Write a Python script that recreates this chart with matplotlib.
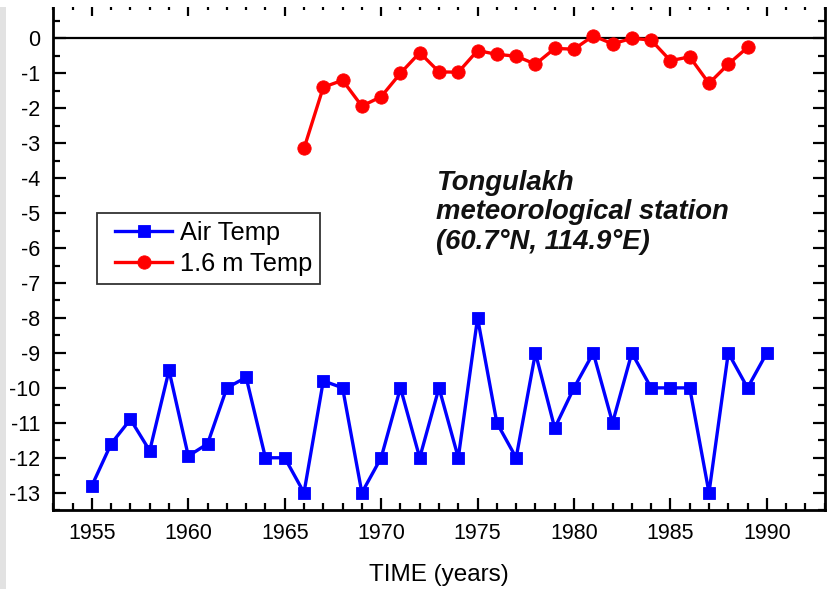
import matplotlib
matplotlib.use("Agg")
import matplotlib.pyplot as plt
from matplotlib.patches import Rectangle
from matplotlib.ticker import MultipleLocator
from matplotlib.legend_handler import HandlerLine2D

# Annual mean temperatures, Tongulakh meteorological station
air_years = list(range(1955, 1991))
air_temp = [-12.8, -11.6, -10.9, -11.8, -9.5, -11.95, -11.6, -10.0, -9.7, -12.0,
            -12.0, -13.0, -9.8, -10.0, -13.0, -12.0, -10.0, -12.0, -10.0, -12.0,
            -8.0, -11.0, -12.0, -9.0, -11.15, -10.0, -9.0, -11.0, -9.0, -10.0,
            -10.0, -10.0, -13.0, -9.0, -10.0, -9.0]

soil_years = list(range(1966, 1990))
soil_temp = [-3.15, -1.4, -1.2, -1.94, -1.67, -1.0, -0.41, -0.96, -0.97, -0.35,
             -0.46, -0.51, -0.74, -0.29, -0.31, 0.07, -0.16, 0.0, -0.05, -0.64,
             -0.53, -1.29, -0.74, -0.26]

x_major_ticks = list(range(1955, 1991, 5))
y_major_ticks = list(range(-13, 1))

series_labels = ["Air Temp", "1.6 m Temp"]
xlabel = "TIME (years)"
station_text = "Tongulakh\nmeteorological station\n(60.7\u00b0N, 114.9\u00b0E)"

plt.rcParams["font.family"] = ["Liberation Sans", "DejaVu Sans"]
plt.rcParams["axes.unicode_minus"] = False

DPI = 100
W, H = 8.27, 5.89
Wpx, Hpx = W * DPI, H * DPI
fig = plt.figure(figsize=(W, H), dpi=DPI)

# axes placement in pixels
ax_left, ax_right = 53.3, 824.7
ax_top, ax_bottom = 3.35, 510.2
ax = fig.add_axes([ax_left / Wpx, (Hpx - ax_bottom) / Hpx,
                   (ax_right - ax_left) / Wpx, (ax_bottom - ax_top) / Hpx])

ax.axhline(0, color="black", lw=1.6, zorder=1)

l1, = ax.plot(air_years, air_temp, color="#0000ff", lw=2.4, marker="s",
              markersize=8.5, markeredgewidth=0.6, markeredgecolor="#0000ff",
              label=series_labels[0], zorder=3)
l2, = ax.plot(soil_years, soil_temp, color="#ff0000", lw=2.4, marker="o",
              markersize=9.6, markeredgewidth=0.6, markeredgecolor="#ff0000",
              label=series_labels[1], zorder=3)

ax.set_xlim(1953, 1993)
ax.set_ylim(-13.5, 1.0)
ax.set_xticks(x_major_ticks)
ax.xaxis.set_minor_locator(MultipleLocator(1))
ax.set_yticks(y_major_ticks)
ax.yaxis.set_minor_locator(MultipleLocator(0.5))

for side in ["left", "right", "top", "bottom"]:
    ax.spines[side].set_linewidth(2.0)

ax.tick_params(which="both", direction="in", top=True, right=True, width=1.6,
               color="black")
ax.tick_params(which="major", length=9)
ax.tick_params(which="minor", length=4.8)
ax.tick_params(axis="x", which="major", labelsize=15.5, pad=9.5)
ax.tick_params(axis="y", which="major", labelsize=15.5, pad=9.5)

ax.set_xlabel(xlabel, fontsize=17.5, labelpad=14)

handler = HandlerLine2D(xpad=0.37)
leg = ax.legend(handles=[l1, l2], loc="upper left",
                bbox_to_anchor=((97 - ax_left) / (ax_right - ax_left),
                                (ax_bottom - 213) / (ax_bottom - ax_top)),
                borderaxespad=0, fontsize=18.3, frameon=True, fancybox=False,
                shadow=False, numpoints=1, handlelength=2.65,
                handletextpad=0.28, borderpad=0.32, labelspacing=0.27,
                handler_map={l1: handler, l2: handler})
leg.get_frame().set_edgecolor("black")
leg.get_frame().set_linewidth(1.3)

ax.text(1972.85, -3.77, station_text, fontsize=19.8, fontweight="bold",
        fontstyle="italic", ha="left", va="top", linespacing=1.17,
        color="#111111")

# light strip along the left edge of the page, white margin along the top
fig.add_artist(Rectangle((0, 0), 6 / Wpx, 1, transform=fig.transFigure,
                         facecolor="#e2e2e2", edgecolor="none", zorder=20))
fig.add_artist(Rectangle((0, 1 - 7 / Hpx), 1, 7 / Hpx, transform=fig.transFigure,
                         facecolor="white", edgecolor="none", zorder=21))

fig.savefig("out.png", dpi=DPI)
